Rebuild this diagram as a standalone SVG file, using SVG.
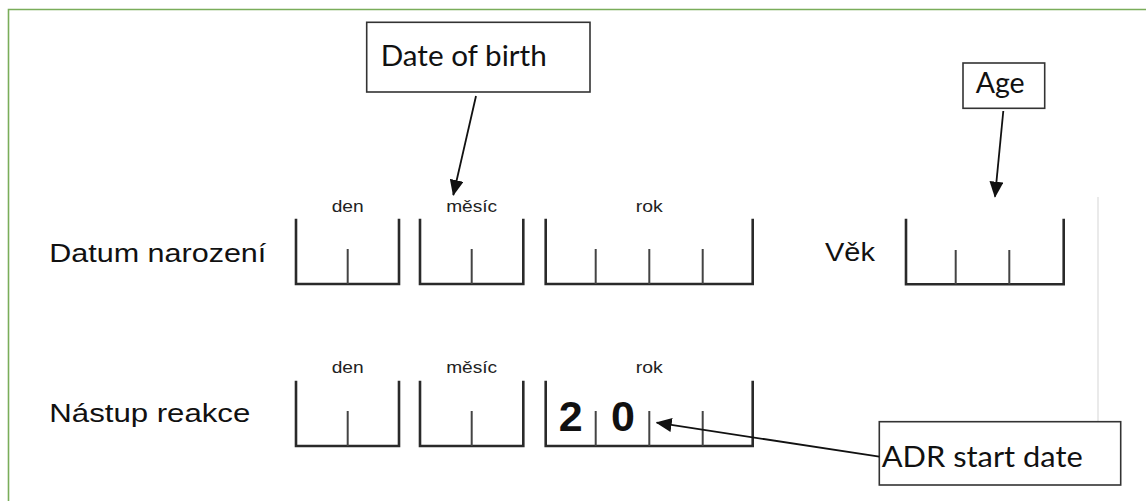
<svg xmlns="http://www.w3.org/2000/svg" width="1146" height="501" viewBox="0 0 1146 501">
<defs>
<style>
.frame{fill:none;stroke:#2a2a2a;stroke-width:2.6;stroke-linecap:square}
.tick{stroke:#444;stroke-width:2}
.lab{font-family:"Liberation Sans",Arial,sans-serif;font-size:17px;fill:#222;text-anchor:middle}
.big{font-family:"Liberation Sans",Arial,sans-serif;font-size:26.5px;fill:#111}
.dig{font-family:"Liberation Sans",Arial,sans-serif;font-size:43px;font-weight:bold;fill:#111;text-anchor:middle}
.call rect{fill:#fff;stroke:#333;stroke-width:1.6}
.call text{font-family:Lato,"Open Sans",sans-serif;font-size:28px;fill:#111}
.conn{stroke:#111;stroke-width:1.8;fill:none;marker-end:url(#ah)}
</style>
<marker id="ah" viewBox="0 0 16 14" refX="15" refY="7" markerWidth="16" markerHeight="14" markerUnits="userSpaceOnUse" orient="auto">
<path d="M0,0 L16,7 L0,14 z" fill="#111"/>
</marker>
</defs>
<rect width="1146" height="501" fill="#fff"/>
<path d="M8.5,501 V9.5 H1146" fill="none" stroke="#7aad5a" stroke-width="1.6"/>
<line x1="1098" y1="197" x2="1098" y2="447" stroke="#dcdcdc" stroke-width="1.2"/>

<g id="row-birth">
<text class="big" x="49.3" y="261.7" textLength="217" lengthAdjust="spacingAndGlyphs">Datum narození</text>
<text class="lab" x="347.7" y="211.7" textLength="32" lengthAdjust="spacingAndGlyphs">den</text>
<text class="lab" x="471.7" y="211.7" textLength="51" lengthAdjust="spacingAndGlyphs">měsíc</text>
<text class="lab" x="649.3" y="211.7" textLength="27" lengthAdjust="spacingAndGlyphs">rok</text>
<path class="frame" d="M296,220 V284 H399 V220"/>
<line class="tick" x1="347.7" y1="249" x2="347.7" y2="284"/>
<path class="frame" d="M420,220 V284 H523.3 V220"/>
<line class="tick" x1="471.7" y1="249" x2="471.7" y2="284"/>
<path class="frame" d="M545.7,220 V284 H752.7 V220"/>
<line class="tick" x1="595.7" y1="249" x2="595.7" y2="284"/>
<line class="tick" x1="649.3" y1="249" x2="649.3" y2="284"/>
<line class="tick" x1="702.7" y1="249" x2="702.7" y2="284"/>
</g>

<g id="row-age">
<text class="big" x="825" y="260.7" textLength="50" lengthAdjust="spacingAndGlyphs">Věk</text>
<path class="frame" d="M906,220 V284.3 H1063.7 V220"/>
<line class="tick" x1="955.7" y1="250" x2="955.7" y2="284.3"/>
<line class="tick" x1="1009.3" y1="250" x2="1009.3" y2="284.3"/>
</g>

<g id="row-onset">
<text class="big" x="49.3" y="421.7" textLength="201" lengthAdjust="spacingAndGlyphs">Nástup reakce</text>
<text class="lab" x="347.7" y="373.3" textLength="32" lengthAdjust="spacingAndGlyphs">den</text>
<text class="lab" x="471.7" y="373.3" textLength="51" lengthAdjust="spacingAndGlyphs">měsíc</text>
<text class="lab" x="649.3" y="373.3" textLength="27" lengthAdjust="spacingAndGlyphs">rok</text>
<path class="frame" d="M296,382 V446 H399 V382"/>
<line class="tick" x1="347.7" y1="411" x2="347.7" y2="446"/>
<path class="frame" d="M420,382 V446 H523.3 V382"/>
<line class="tick" x1="471.7" y1="411" x2="471.7" y2="446"/>
<path class="frame" d="M545.7,382 V446 H752.7 V382"/>
<line class="tick" x1="595.7" y1="411" x2="595.7" y2="446"/>
<line class="tick" x1="649.3" y1="411" x2="649.3" y2="446"/>
<line class="tick" x1="702.7" y1="411" x2="702.7" y2="446"/>
<text class="dig" x="570.7" y="431">2</text>
<text class="dig" x="623" y="431">0</text>
</g>

<g id="callout-dob" class="call">
<rect x="366.7" y="22.3" width="223.3" height="69.7"/>
<text x="380.7" y="66" textLength="166" lengthAdjust="spacingAndGlyphs">Date of birth</text>
</g>
<g id="callout-age" class="call">
<rect x="963" y="63" width="81.7" height="45.3"/>
<text x="975.7" y="92.7" textLength="49" lengthAdjust="spacingAndGlyphs">Age</text>
</g>
<g id="callout-adr" class="call">
<rect x="879.3" y="421.7" width="241.4" height="63.3"/>
<text x="881.7" y="467.3" textLength="201" lengthAdjust="spacingAndGlyphs">ADR start date</text>
</g>

<g id="connectors">
<line class="conn" x1="476" y1="96" x2="453.3" y2="195"/>
<line class="conn" x1="1003.3" y1="111" x2="995" y2="196.7"/>
<line class="conn" x1="879.3" y1="456.7" x2="656.7" y2="422.7"/>
</g>
</svg>
